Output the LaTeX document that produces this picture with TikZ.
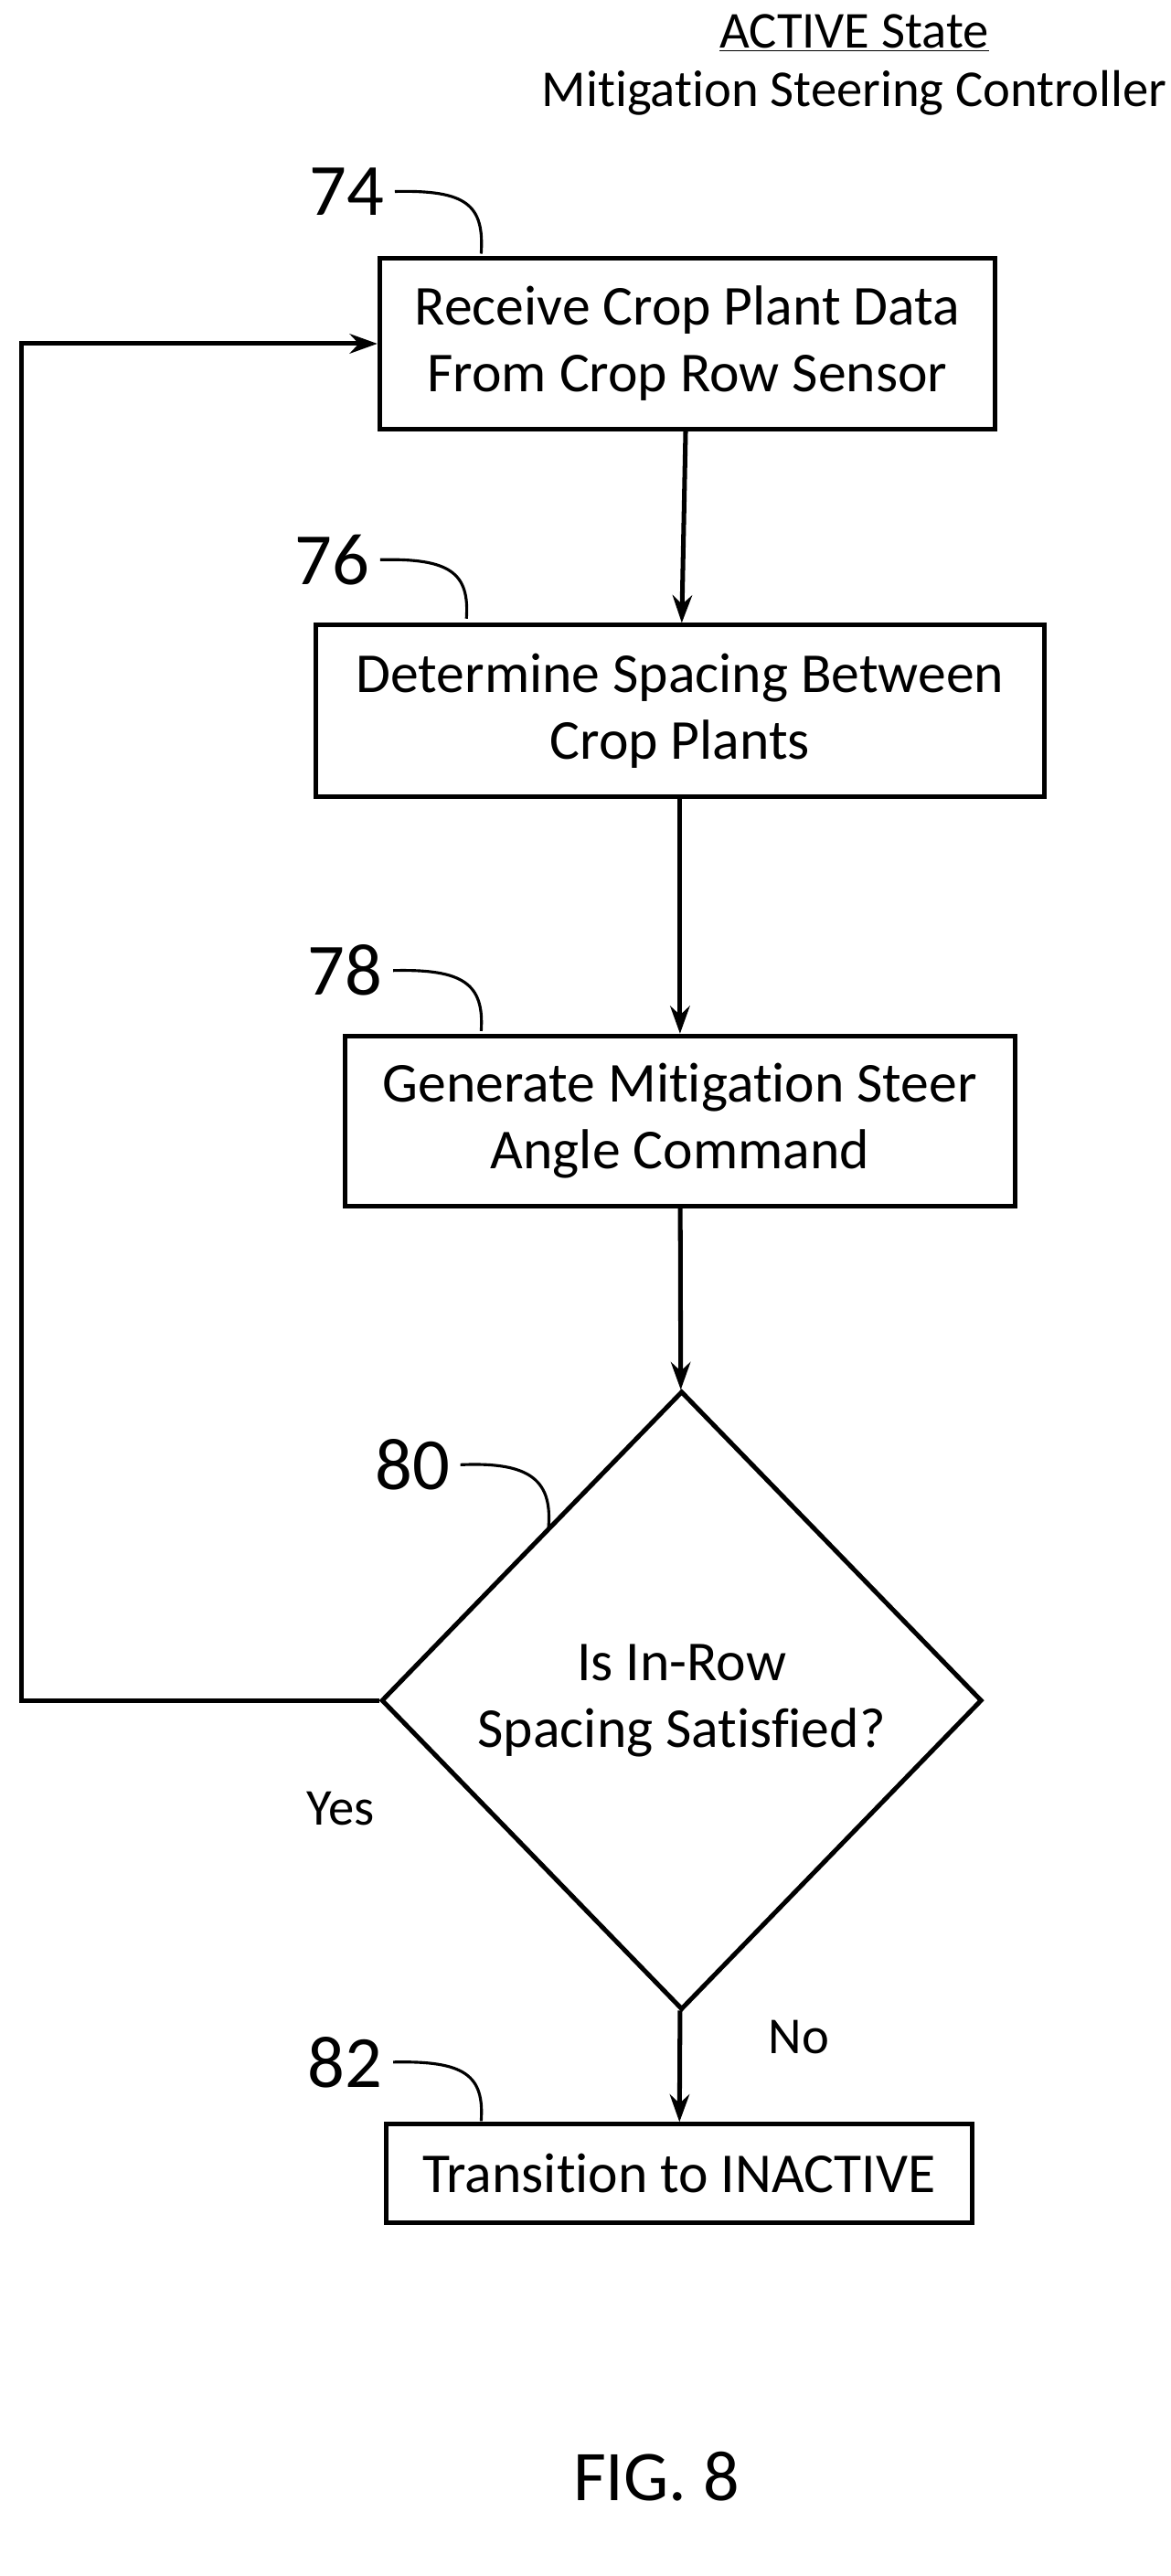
\documentclass[tikz,border=0pt]{standalone}
\usepackage{fontspec}
\setmainfont{Carlito}[Ligatures={NoCommon,NoRare}]
\usetikzlibrary{shapes.geometric,arrows.meta}

\begin{document}
\begin{tikzpicture}[x=0.05cm,y=-0.05cm,
    box/.style={draw,line width=4pt,align=center,font=\fontsize{49}{58}\selectfont},
    ref/.style={font=\fontsize{64}{64}\selectfont},
    flow/.style={draw,line width=4pt,-{Stealth[length=24pt,width=17pt]}}]
  \useasboundingbox (0,0) rectangle (715,1574);
  \node [font=\fontsize{45}{45}\selectfont] (title) at (522,20) {\underline{ACTIVE State}};
  \node [font=\fontsize{45}{45}\selectfont] (subtitle) at (522,57) {Mitigation Steering Controller};
  \node [box,minimum width=376*0.05cm,minimum height=104*0.05cm] (receive) at (420,210)
    {Receive Crop Plant Data\\From Crop Row Sensor};
  \node [box,minimum width=445*0.05cm,minimum height=105*0.05cm] (spacing) at (415.5,434.5)
    {Determine Spacing Between\\Crop Plants};
  \node [box,minimum width=409*0.05cm,minimum height=104*0.05cm] (steer) at (415.5,685)
    {Generate Mitigation Steer\\Angle Command};
  \node [draw,line width=4pt,diamond,aspect=0.97,minimum width=367*0.05cm,minimum height=378*0.05cm,
    inner sep=0pt,align=center,font=\fontsize{49}{58}\selectfont] (check) at (416.5,1039)
    {Is In-Row\\Spacing Satisfied?};
  \node [box,minimum width=358*0.05cm,minimum height=60*0.05cm] (inactive) at (415,1328)
    {Transition to INACTIVE};
  % reference numerals
  \node [ref] (n74) at (212,117) {74};
  \node [ref] (n76) at (203,342) {76};
  \node [ref] (n78) at (211,593) {78};
  \node [ref] (n80) at (252,895) {80};
  \node [ref] (n82) at (211,1260) {82};
  \draw [line width=2.5pt] (n74.east) ++(4,0) .. controls (285,116) and (296,125) .. (294,155);
  \draw [line width=2.5pt] (n76.east) ++(4,0) .. controls (275,341) and (287,350) .. (285,378);
  \draw [line width=2.5pt] (n78.east) ++(4,0) .. controls (283,592) and (296,601) .. (294,630);
  \draw [line width=2.5pt] (n80.east) ++(4,0) .. controls (325,893) and (338,905) .. (335,935);
  \draw [line width=2.5pt] (n82.east) ++(4,0) .. controls (284,1259) and (296,1268) .. (294,1296);
  % connectors
  \coordinate (loopbottom) at (13,1039);
  \coordinate (looptop) at (13,210);
  \draw [flow] (receive) -- (spacing);
  \draw [flow] (spacing) -- (steer);
  \draw [flow] (steer) -- (check);
  \draw [flow] (check) -- (inactive);
  \draw [flow] (check.west) -- (loopbottom) -- (looptop) -- (receive.west);
  \node [font=\fontsize{45}{45}\selectfont] (yes) at (208,1105) {Yes};
  \node [font=\fontsize{45}{45}\selectfont] (no) at (488,1245) {No};
  \node [font=\fontsize{62}{62}\selectfont] (fig) at (401,1513) {FIG. 8};
\end{tikzpicture}
\end{document}
